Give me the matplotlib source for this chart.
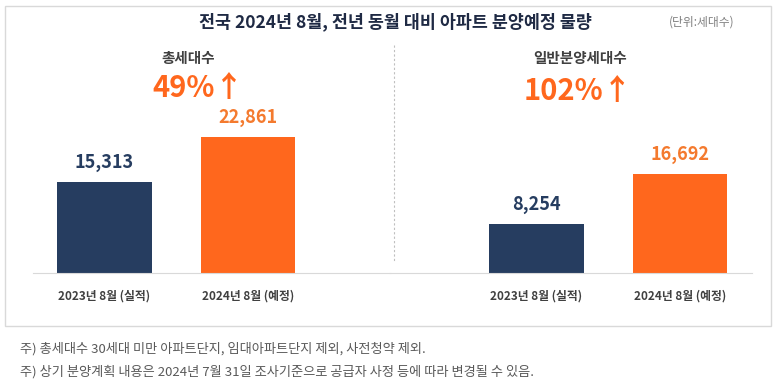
import matplotlib.pyplot as plt
from matplotlib.patches import Rectangle

plt.rcParams['font.family'] = ['Noto Sans CJK KR', 'DejaVu Sans']

title = "전국 2024년 8월, 전년 동월 대비 아파트 분양예정 물량"
unit = "(단위:세대수)"
periods = ["2023년 8월 (실적)", "2024년 8월 (예정)"]
total_units = [15313, 22861]
general_units = [8254, 16692]
panel_names = ["총세대수", "일반분양세대수"]
growth = ["49%", "102%"]
notes = ["주) 총세대수 30세대 미만 아파트단지, 임대아파트단지 제외, 사전청약 제외.",
         "주) 상기 분양계획 내용은 2024년 7월 31일 조사기준으로 공급자 사정 등에 따라 변경될 수 있음."]

NAVY = "#263D60"
ORANGE = "#FF671D"
W, H = 780, 385

fig = plt.figure(figsize=(7.8, 3.85), dpi=100)

def px(x, y):
    return x / W, 1 - y / H

# outer frame
fig.patches.append(Rectangle(px(5, 326), 766 / W, 320 / H, transform=fig.transFigure,
                             fill=False, edgecolor="#D9D9D9", lw=1))

base_y = 273
ytop = 39000
ax_h = ytop / 168 / H
panels = [(33, 390, 104.5, total_units), (390, 752, 536.5, general_units)]
axes = []
for x0, x1, c0, vals in panels:
    ax = fig.add_axes([x0 / W, 1 - base_y / H, (x1 - x0) / W, ax_h])
    ax.set_xlim(-(c0 - x0) / 143.5, (x1 - c0) / 143.5)
    ax.set_ylim(0, ytop)
    ax.bar([0, 1], vals, width=0.66, color=[NAVY, ORANGE])
    for i, v in enumerate(vals):
        ax.text(i, v + 1600, f"{v:,}", ha="center", va="bottom", fontsize=13,
                fontweight="bold", color=[NAVY, "#F47A2E"][i])
    ax.set_xticks([0, 1])
    ax.set_xticklabels(periods, fontsize=8.5, color="#404040", fontweight="bold")
    ax.tick_params(axis="x", length=0, pad=12)
    ax.set_yticks([])
    for s in ["top", "left", "right"]:
        ax.spines[s].set_visible(False)
    ax.spines["bottom"].set_color("#D9D9D9")
    ax.patch.set_alpha(0)
    axes.append(ax)

# divider
fig.add_artist(plt.Line2D([394 / W, 394 / W], [1 - 45 / H, 1 - 262 / H],
                          transform=fig.transFigure, color="#BFBFBF", lw=0.8, ls=(0, (2, 2))))

fig.text(*px(395, 22), title, ha="center", va="center", fontsize=12.5,
         fontweight="bold", color="#1F2A44")
fig.text(*px(702, 22), unit, ha="center", va="center", fontsize=8.5, color="#7F7F7F")

for (cx, gx, gy, name, g) in zip([188, 580], [198, 578], [88, 91], panel_names, growth):
    fig.text(*px(cx, 58), name, ha="center", va="center", fontsize=10.5,
             fontweight="bold", color="#404040")
    fig.text(*px(gx, gy), g + "↑", ha="center", va="center", fontsize=21,
             fontweight="bold", color=ORANGE)

for y, n in zip([349, 372], notes):
    fig.text(*px(20, y), n, ha="left", va="center", fontsize=9.5, color="#595959")

fig.savefig("out.png", dpi=100)
